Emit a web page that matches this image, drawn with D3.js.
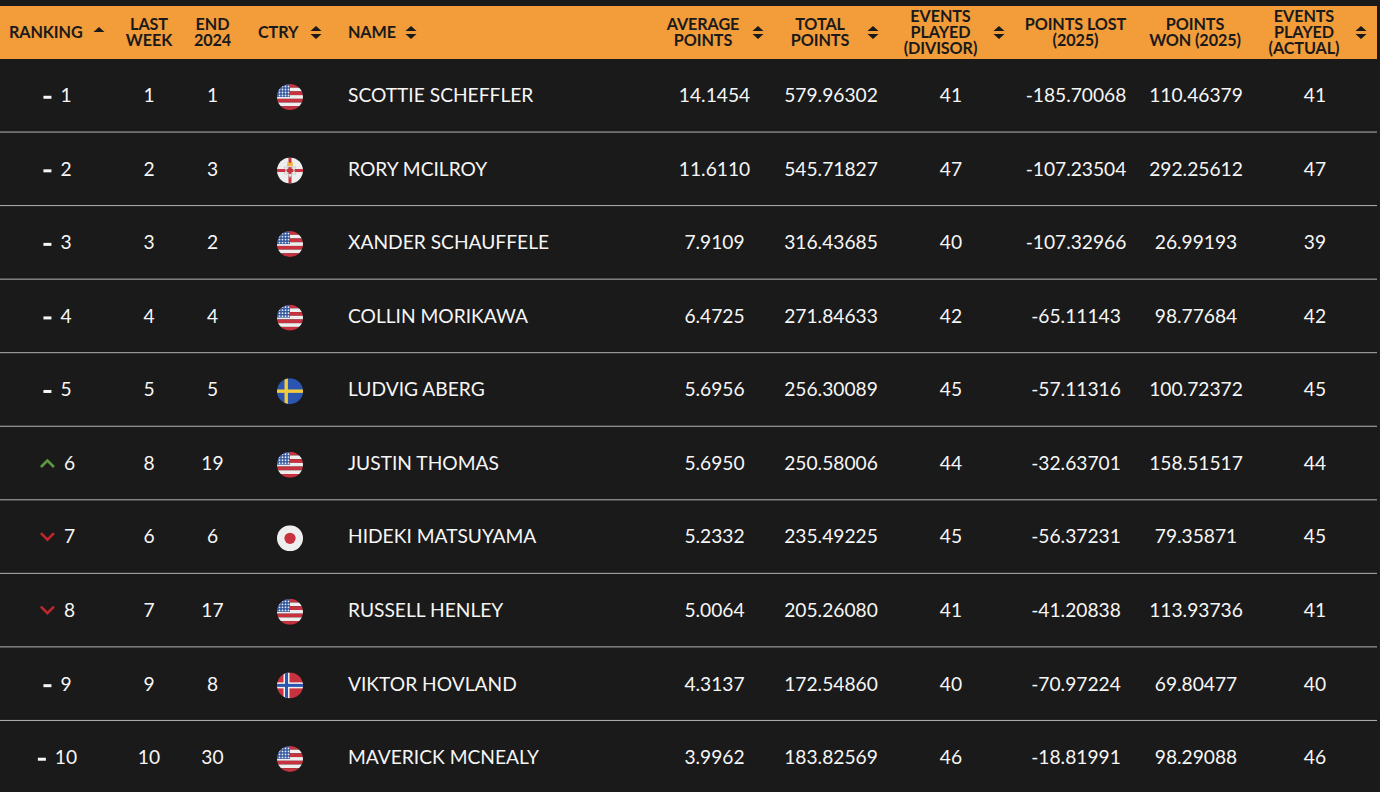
<!DOCTYPE html>
<html>
<head>
<meta charset="utf-8">
<script src="https://cdn.jsdelivr.net/npm/d3@7"></script>
<style>
  html, body { margin: 0; padding: 0; background: #1a1a1a; overflow: hidden; }
  svg { display: block; font-family: Lato, sans-serif; }
</style>
</head>
<body>
<svg id="chart" width="1380" height="792"></svg>
<script>
// table values, top to bottom
const ranks = [1, 2, 3, 4, 5, 6, 7, 8, 9, 10];
const moves = ['same', 'same', 'same', 'same', 'same', 'up', 'down', 'down', 'same', 'same'];
const lastWeek = [1, 2, 3, 4, 5, 8, 6, 7, 9, 10];
const end2024 = [1, 3, 2, 4, 5, 19, 6, 17, 8, 30];
const countries = ['usa', 'nir', 'usa', 'usa', 'swe', 'usa', 'jpn', 'usa', 'nor', 'usa'];
const names = ['SCOTTIE SCHEFFLER', 'RORY MCILROY', 'XANDER SCHAUFFELE', 'COLLIN MORIKAWA', 'LUDVIG ABERG',
  'JUSTIN THOMAS', 'HIDEKI MATSUYAMA', 'RUSSELL HENLEY', 'VIKTOR HOVLAND', 'MAVERICK MCNEALY'];
const averagePoints = ['14.1454', '11.6110', '7.9109', '6.4725', '5.6956', '5.6950', '5.2332', '5.0064', '4.3137', '3.9962'];
const totalPoints = ['579.96302', '545.71827', '316.43685', '271.84633', '256.30089', '250.58006', '235.49225', '205.26080', '172.54860', '183.82569'];
const eventsDivisor = [41, 47, 40, 42, 45, 44, 45, 41, 40, 46];
const pointsLost = ['-185.70068', '-107.23504', '-107.32966', '-65.11143', '-57.11316', '-32.63701', '-56.37231', '-41.20838', '-70.97224', '-18.81991'];
const pointsWon = ['110.46379', '292.25612', '26.99193', '98.77684', '100.72372', '158.51517', '79.35871', '113.93736', '69.80477', '98.29088'];
const eventsActual = [41, 47, 39, 42, 45, 44, 45, 41, 40, 46];

const headerLabels = [['RANKING'], ['LAST', 'WEEK'], ['END', '2024'], ['CTRY'], ['NAME'], ['AVERAGE', 'POINTS'], ['TOTAL', 'POINTS'],
  ['EVENTS', 'PLAYED', '(DIVISOR)'], ['POINTS LOST', '(2025)'], ['POINTS', 'WON (2025)'], ['EVENTS', 'PLAYED', '(ACTUAL)']];

const headerTop = 6, headerBottom = 59, tableRight = 1377, rowsTop = 58.5, rowHeight = 73.55;

const svg = d3.select('#chart');
const y = d3.scaleBand().domain(ranks).range([rowsTop, rowsTop + rowHeight * ranks.length]);
const rowY = r => y(r) + y.bandwidth() / 2;

// header band
svg.append('rect').attr('x', 0).attr('y', headerTop).attr('width', tableRight).attr('height', headerBottom - headerTop).attr('fill', '#f29c3a');

// header text: x, anchor, sort icon position
const headerLayout = [
  { x: 9, anchor: 'start', icon: 99, only: 'up' },
  { x: 149, anchor: 'middle' },
  { x: 212.5, anchor: 'middle' },
  { x: 258, anchor: 'start', icon: 316 },
  { x: 348, anchor: 'start', icon: 411 },
  { x: 703, anchor: 'middle', icon: 758 },
  { x: 820, anchor: 'middle', icon: 873 },
  { x: 940.5, anchor: 'middle', icon: 999 },
  { x: 1075.5, anchor: 'middle' },
  { x: 1195, anchor: 'middle' },
  { x: 1304, anchor: 'middle', icon: 1361 }
];
const headerMid = (headerTop + headerBottom) / 2 - 0.5;
const head = svg.append('g').selectAll('g').data(headerLabels).join('g');
head.each(function (lines, i) {
  const l = headerLayout[i];
  const g = d3.select(this);
  g.selectAll('text').data(lines).join('text')
    .attr('x', l.x)
    .attr('y', (d, k) => headerMid + (k - (lines.length - 1) / 2) * 16)
    .attr('dy', '0.36em')
    .attr('text-anchor', l.anchor)
    .attr('font-size', 16.2)
    .attr('font-weight', 700)
    .attr('letter-spacing', -0.1)
    .attr('fill', '#1a1a1a')
    .text(d => d);
  if (l.icon) {
    g.append('path')
      .attr('transform', `translate(${l.icon},${headerMid + 0.5 + (l.only ? -3 : 0)})`)
      .attr('d', l.only ? 'M-5.5,2.5L0,-2.5L5.5,2.5Z' : 'M-5.5,-1.5L0,-6.5L5.5,-1.5ZM-5.5,1.5L0,6.5L5.5,1.5Z')
      .attr('fill', '#1a1a1a');
  }
});

// row separators
svg.append('g').selectAll('line').data(ranks.slice(0, -1)).join('line')
  .attr('x1', 0).attr('x2', tableRight)
  .attr('y1', r => y(r) + y.bandwidth()).attr('y2', r => y(r) + y.bandwidth())
  .attr('stroke', '#b4b4b8').attr('stroke-width', 1);

// plain text columns
const columns = [
  { values: lastWeek, x: 149, anchor: 'middle' },
  { values: end2024, x: 212.5, anchor: 'middle' },
  { values: names, x: 348, anchor: 'start' },
  { values: averagePoints, x: 714.5, anchor: 'middle' },
  { values: totalPoints, x: 831, anchor: 'middle' },
  { values: eventsDivisor, x: 951, anchor: 'middle' },
  { values: pointsLost, x: 1076, anchor: 'middle' },
  { values: pointsWon, x: 1196, anchor: 'middle' },
  { values: eventsActual, x: 1315, anchor: 'middle' }
];
function cellText(sel) {
  return sel.attr('dy', '0.36em').attr('font-size', 19.2).attr('fill', '#f6f6f6');
}
columns.forEach(c => {
  svg.append('g').selectAll('text').data(c.values).join('text')
    .attr('x', c.x).attr('y', (d, i) => rowY(ranks[i]))
    .attr('text-anchor', c.anchor)
    .call(cellText)
    .text(d => d);
});

// ranking cell: marker + number, centred as a unit
const rankCell = svg.append('g').selectAll('g').data(ranks).join('g')
  .attr('transform', r => `translate(0,${rowY(r)})`);
rankCell.each(function (r, i) {
  const g = d3.select(this);
  const num = g.append('text').attr('text-anchor', 'start').call(cellText).text(r);
  const w = num.node().getComputedTextLength();
  const move = moves[i];
  const markW = move === 'same' ? 8 : 15;
  const gap = move === 'same' ? 9 : 9;
  const left = 57.5 - (markW + gap + w) / 2;
  num.attr('x', left + markW + gap);
  if (move === 'same') {
    g.append('rect').attr('x', left).attr('y', 0.5).attr('width', markW).attr('height', 3).attr('fill', '#f6f6f6');
  } else {
    const colour = move === 'up' ? '#5d9b3c' : '#c0272d';
    const d = move === 'up' ? 'M0,4L6.5,-2.5L13,4' : 'M0,-3.5L6.5,3L13,-3.5';
    g.append('path').attr('transform', `translate(${left + 1},0)`).attr('d', d)
      .attr('fill', 'none').attr('stroke', colour).attr('stroke-width', 2.6);
  }
});

// flags, drawn in a 26px box clipped to a circle
const flagR = 13;
svg.append('defs').append('clipPath').attr('id', 'flagClip').append('circle').attr('r', flagR);
const red = '#c8313e', white = '#eeeeee', blue = '#2a55b0';

const flagPainters = {
  usa(g) {
    const stripe = d3.scaleBand().domain(d3.range(7)).range([-flagR, flagR]);
    g.selectAll('rect.s').data(d3.range(7)).join('rect').attr('class', 's')
      .attr('x', -flagR).attr('width', flagR * 2)
      .attr('y', i => stripe(i)).attr('height', stripe.bandwidth())
      .attr('fill', i => (i % 2 ? white : red));
    g.append('rect').attr('x', -flagR).attr('y', -flagR).attr('width', flagR).attr('height', flagR).attr('fill', '#34589f');
    const star = d3.scalePoint().domain(d3.range(4)).range([-10.5, -1.5]);
    d3.cross(d3.range(4), d3.range(4)).forEach(([a, b]) => {
      g.append('circle').attr('cx', star(a)).attr('cy', star(b)).attr('r', 0.9).attr('fill', '#e6ebf5');
    });
  },
  nir(g) {
    g.append('rect').attr('x', -flagR).attr('y', -flagR).attr('width', flagR * 2).attr('height', flagR * 2).attr('fill', white);
    g.append('rect').attr('x', -flagR).attr('y', -1.5).attr('width', flagR * 2).attr('height', 3).attr('fill', red);
    g.append('rect').attr('x', -1.5).attr('y', -flagR).attr('width', 3).attr('height', flagR * 2).attr('fill', red);
    g.append('path').attr('d', 'M0,-7L6,3.5L-6,3.5ZM0,7L6,-3.5L-6,-3.5Z').attr('fill', white).attr('stroke', '#c4c4c4').attr('stroke-width', 0.7);
    g.append('rect').attr('x', -1.5).attr('y', -3).attr('width', 3).attr('height', 6).attr('fill', red);
    g.append('path').attr('d', 'M-3,-4.5L-2.5,-9L0,-7.5L2.5,-9L3,-4.5Z').attr('fill', '#efb63f');
  },
  swe(g) {
    g.append('rect').attr('x', -flagR).attr('y', -flagR).attr('width', flagR * 2).attr('height', flagR * 2).attr('fill', blue);
    g.append('rect').attr('x', -flagR).attr('y', -1.7).attr('width', flagR * 2).attr('height', 3.4).attr('fill', '#f2cb3d');
    g.append('rect').attr('x', -5.5).attr('y', -flagR).attr('width', 3.4).attr('height', flagR * 2).attr('fill', '#f2cb3d');
  },
  jpn(g) {
    g.append('rect').attr('x', -flagR).attr('y', -flagR).attr('width', flagR * 2).attr('height', flagR * 2).attr('fill', white);
    g.append('circle').attr('r', 5.6).attr('fill', red);
  },
  nor(g) {
    g.append('rect').attr('x', -flagR).attr('y', -flagR).attr('width', flagR * 2).attr('height', flagR * 2).attr('fill', red);
    g.append('rect').attr('x', -flagR).attr('y', -3).attr('width', flagR * 2).attr('height', 6).attr('fill', white);
    g.append('rect').attr('x', -6.5).attr('y', -flagR).attr('width', 6).attr('height', flagR * 2).attr('fill', white);
    g.append('rect').attr('x', -flagR).attr('y', -1.5).attr('width', flagR * 2).attr('height', 3).attr('fill', blue);
    g.append('rect').attr('x', -5).attr('y', -flagR).attr('width', 3).attr('height', flagR * 2).attr('fill', blue);
  }
};
svg.append('g').selectAll('g').data(countries).join('g')
  .attr('transform', (d, i) => `translate(290,${rowY(ranks[i]) + 1.7})`)
  .attr('clip-path', 'url(#flagClip)')
  .each(function (c) { flagPainters[c](d3.select(this)); });
</script>
</body>
</html>
